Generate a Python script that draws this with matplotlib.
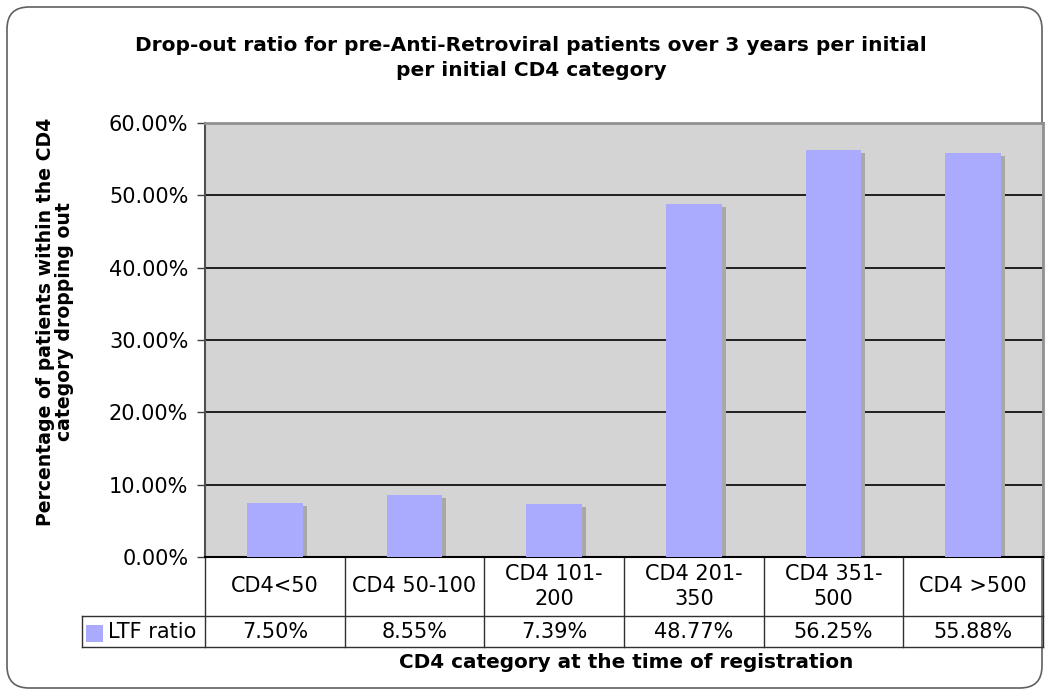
import matplotlib.pyplot as plt
from matplotlib.patches import Rectangle, FancyBboxPatch
import numpy as np

categories = ['CD4<50', 'CD4 50-100', 'CD4 101-\n200', 'CD4 201-\n350', 'CD4 351-\n500', 'CD4 >500']
ltf_ratio = [7.50, 8.55, 7.39, 48.77, 56.25, 55.88]
series_name = 'LTF ratio'
yticks = [0, 10, 20, 30, 40, 50, 60]

bar_color = '#aaaaff'
shadow_color = '#a8a8a8'
bg_color = '#d4d4d4'
fs = 15

W, H = 1046, 693
fig = plt.figure(figsize=(W / 100, H / 100), dpi=100, facecolor='white')

# 外框圆角
frame = FancyBboxPatch((7 / 100, 5 / 100), (W - 11) / 100, (H - 12) / 100,
                       boxstyle='round,pad=0,rounding_size=0.22',
                       transform=fig.dpi_scale_trans, facecolor='none',
                       edgecolor='#606060', linewidth=1.2, zorder=-1)
fig.patches.append(frame)

L, R, T, B = 205, 1043, 123, 557
ax = fig.add_axes([L / W, 1 - B / H, (R - L) / W, (B - T) / H])
ax.set_facecolor(bg_color)

x = np.arange(len(categories))
dx = 4 / ((R - L) / len(categories))
dy = 3 / ((B - T) / 60)
ax.bar(x + dx, np.array(ltf_ratio) - dy, width=0.4, color=shadow_color, zorder=2)
ax.bar(x, ltf_ratio, width=0.4, color=bar_color, zorder=3)

ax.set_xlim(-0.5, len(categories) - 0.5)
ax.set_ylim(0, 60)
ax.set_yticks(yticks)
ax.set_yticklabels(['{:.2f}%'.format(v) for v in yticks], fontsize=fs)
ax.yaxis.grid(True, color='black', linewidth=1.2, zorder=1)
ax.set_axisbelow(True)
ax.tick_params(axis='y', length=6, width=1, pad=6, colors='#404040', labelcolor='black')
ax.set_xticks([])

for s in ['top', 'right']:
    ax.spines[s].set_color('#909090')
    ax.spines[s].set_linewidth(2)
ax.spines['left'].set_color('#505050')
ax.spines['left'].set_linewidth(1.5)
ax.spines['bottom'].set_color('black')
ax.spines['bottom'].set_linewidth(1.5)

# 表格
r1 = (B - 616) / (B - T)
r2 = (B - 647) / (B - T)
leg_left = (82 - L) / (R - L)
kw = dict(color='#303030', linewidth=1, clip_on=False)
trans_x = ax.get_xaxis_transform()
for edge in np.arange(len(categories) + 1) - 0.5:
    ax.plot([edge, edge], [0, r2], transform=trans_x, **kw)
ax.plot([leg_left, 1], [r1, r1], transform=ax.transAxes, **kw)
ax.plot([leg_left, 1], [r2, r2], transform=ax.transAxes, **kw)
ax.plot([leg_left, leg_left], [r1, r2], transform=ax.transAxes, **kw)

for i, (c, v) in enumerate(zip(categories, ltf_ratio)):
    ax.text(i, r1 / 2, c, transform=trans_x, ha='center', va='center',
            fontsize=fs, linespacing=1.3)
    ax.text(i, (r1 + r2) / 2, '{:.2f}%'.format(v), transform=trans_x,
            ha='center', va='center', fontsize=fs)

sq = (103 - 86) / (R - L)
sqh = (642 - 625) / (B - T)
ax.add_patch(Rectangle(((86 - L) / (R - L), (B - 642) / (B - T)), sq, sqh,
                       transform=ax.transAxes, facecolor=bar_color,
                       edgecolor='none', clip_on=False))
ax.text((108 - L) / (R - L), (r1 + r2) / 2, series_name, transform=ax.transAxes,
        ha='left', va='center', fontsize=fs)

fig.text(531 / W, 1 - 58 / H,
         'Drop-out ratio for pre-Anti-Retroviral patients over 3 years per initial\nper initial CD4 category',
         ha='center', va='center', fontsize=14.5, fontweight='bold', linespacing=1.35)
fig.text(55 / W, 1 - 322 / H, 'Percentage of patients within the CD4\ncategory dropping out',
         ha='center', va='center', rotation=90, fontsize=13.6, fontweight='bold', linespacing=1.05)
fig.text(626 / W, 1 - 663 / H, 'CD4 category at the time of registration',
         ha='center', va='center', fontsize=14.4, fontweight='bold')

fig.savefig('out.png', dpi=100)
